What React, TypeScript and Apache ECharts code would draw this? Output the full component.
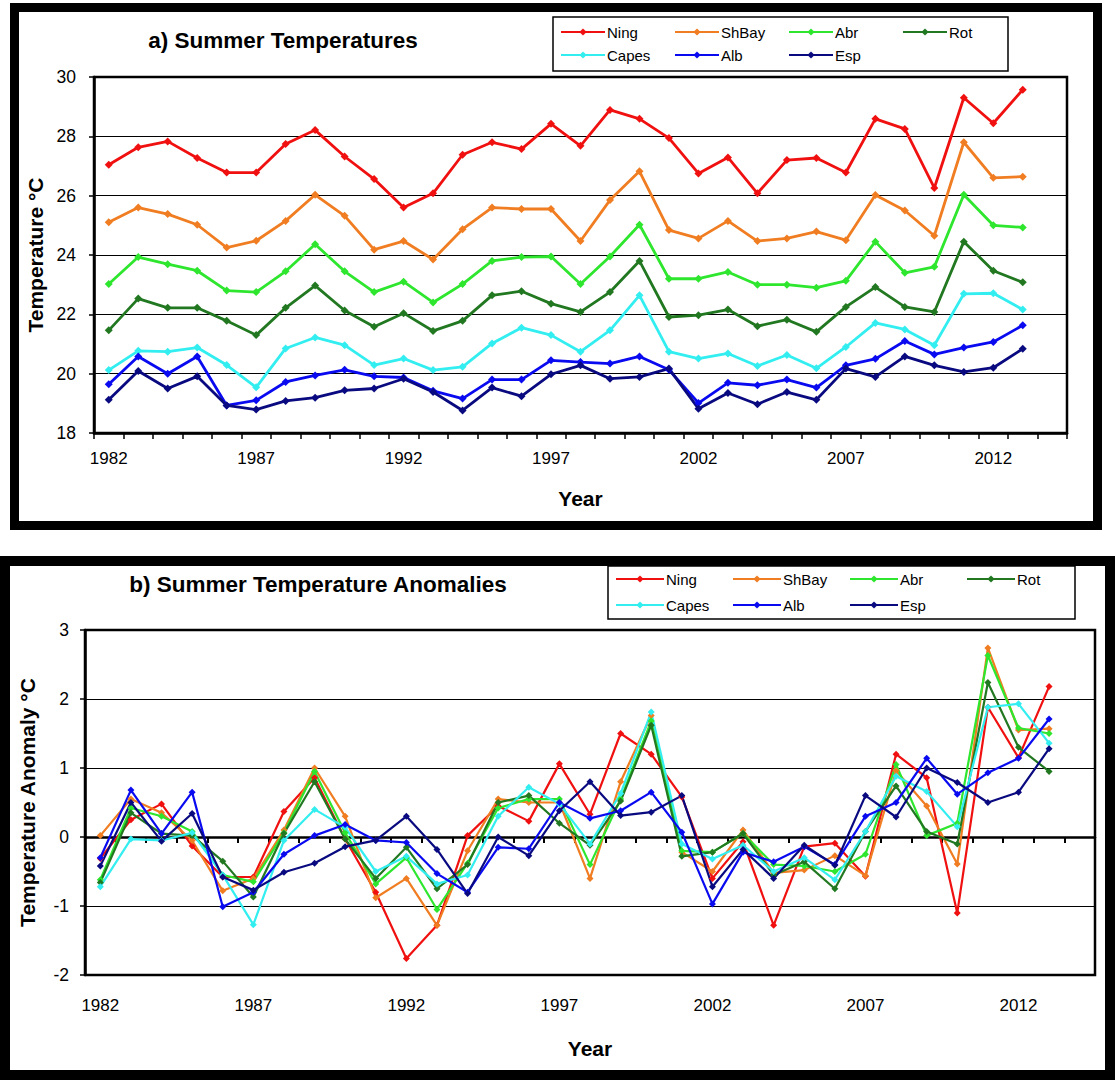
import React, { useEffect, useRef } from "react";
import * as echarts from "echarts";

const years = ["1982","1983","1984","1985","1986","1987","1988","1989","1990","1991","1992","1993","1994","1995","1996","1997","1998","1999","2000","2001","2002","2003","2004","2005","2006","2007","2008","2009","2010","2011","2012","2013","2014"];
const seriesNames = ["Ning", "ShBay", "Abr", "Rot", "Capes", "Alb", "Esp"];
const seriesColors = ["#F01010", "#F07D21", "#2EE62E", "#217821", "#33EEF0", "#0A0AF0", "#0A0A80"];

// a) Summer temperatures (°C)
const ning = [27.04,27.63,27.83,27.27,26.78,26.78,27.74,28.21,27.32,26.56,25.6,26.08,27.38,27.8,27.57,28.42,27.68,28.89,28.59,27.94,26.75,27.29,26.08,27.2,27.27,26.78,28.59,28.25,26.26,29.3,28.44,29.57];
const shbay = [25.1,25.6,25.38,25.02,24.25,24.48,25.15,26.03,25.32,24.18,24.47,23.85,24.87,25.6,25.55,25.55,24.47,25.85,26.82,24.84,24.56,25.15,24.47,24.56,24.79,24.5,26.02,25.5,24.65,27.8,26.6,26.64];
const abr = [23.02,23.93,23.69,23.47,22.8,22.75,23.45,24.36,23.45,22.75,23.1,22.4,23.02,23.8,23.93,23.95,23.02,23.95,25.02,23.2,23.2,23.43,23.0,23.0,22.9,23.13,24.45,23.4,23.6,26.03,25.0,24.93];
const rot = [21.46,22.53,22.22,22.22,21.78,21.3,22.22,22.97,22.13,21.58,22.04,21.44,21.78,22.64,22.78,22.36,22.08,22.75,23.8,21.91,21.97,22.16,21.6,21.82,21.41,22.25,22.92,22.25,22.08,24.45,23.47,23.08];
const capes = [20.12,20.77,20.74,20.88,20.29,19.54,20.85,21.22,20.96,20.29,20.51,20.12,20.23,21.02,21.55,21.3,20.74,21.46,22.64,20.74,20.51,20.68,20.26,20.63,20.18,20.9,21.71,21.49,20.96,22.69,22.71,22.16];
const alb = [19.64,20.58,20.0,20.58,18.93,19.1,19.72,19.94,20.13,19.91,19.87,19.42,19.16,19.8,19.8,20.45,20.39,20.34,20.58,20.13,19.01,19.69,19.61,19.8,19.53,20.28,20.5,21.1,20.65,20.88,21.07,21.63];
const esp = [19.12,20.09,19.5,19.91,18.93,18.79,19.08,19.19,19.44,19.5,19.83,19.38,18.76,19.53,19.24,19.98,20.28,19.83,19.89,20.17,18.82,19.35,18.97,19.38,19.12,20.17,19.89,20.58,20.28,20.06,20.2,20.84];

// b) Summer temperature anomalies (°C)
const ningAnom = [-0.31,0.25,0.48,-0.13,-0.58,-0.58,0.37,0.86,-0.03,-0.8,-1.76,-1.28,0.02,0.45,0.23,1.06,0.33,1.5,1.2,0.58,-0.6,-0.07,-1.28,-0.14,-0.09,-0.57,1.2,0.86,-1.1,1.88,1.15,2.18];
const shbayAnom = [0.02,0.55,0.35,-0.05,-0.78,-0.6,0.1,1.0,0.3,-0.88,-0.6,-1.28,-0.2,0.55,0.5,0.5,-0.6,0.8,1.76,-0.22,-0.5,0.1,-0.52,-0.48,-0.27,-0.56,0.96,0.45,-0.39,2.74,1.55,1.57];
const abrAnom = [-0.62,0.42,0.3,0.08,-0.55,-0.65,0.06,0.95,0.06,-0.68,-0.3,-1.05,-0.38,0.42,0.55,0.55,-0.4,0.55,1.68,-0.2,-0.22,0.05,-0.4,-0.42,-0.5,-0.25,1.05,0.02,0.2,2.63,1.58,1.5];
const rotAnom = [-0.66,0.35,0.05,0.02,-0.35,-0.87,0.05,0.8,-0.03,-0.6,-0.15,-0.75,-0.4,0.5,0.6,0.2,-0.12,0.52,1.62,-0.28,-0.22,0.05,-0.55,-0.36,-0.75,0.08,0.74,0.08,-0.1,2.24,1.3,0.95];
const capesAnom = [-0.72,-0.03,-0.05,0.06,-0.55,-1.27,-0.05,0.4,0.14,-0.5,-0.28,-0.68,-0.55,0.3,0.72,0.48,-0.1,0.63,1.81,-0.1,-0.32,-0.12,-0.5,-0.3,-0.62,0.08,0.88,0.66,0.15,1.88,1.93,1.36];
const albAnom = [-0.3,0.68,0.05,0.65,-1.01,-0.8,-0.25,0.02,0.18,-0.05,-0.08,-0.53,-0.8,-0.15,-0.17,0.5,0.27,0.38,0.65,0.07,-0.97,-0.22,-0.36,-0.14,-0.4,0.3,0.5,1.14,0.62,0.93,1.14,1.71];
const espAnom = [-0.42,0.5,-0.06,0.34,-0.58,-0.77,-0.51,-0.38,-0.14,-0.05,0.3,-0.18,-0.82,0.0,-0.27,0.38,0.8,0.31,0.36,0.6,-0.72,-0.18,-0.6,-0.12,-0.41,0.6,0.29,1.0,0.79,0.5,0.65,1.28];

const tempData = [ning, shbay, abr, rot, capes, alb, esp];
const anomData = [ningAnom, shbayAnom, abrAnom, rotAnom, capesAnom, albAnom, espAnom];

const FONT = "'Liberation Sans', Arial, sans-serif";

function buildOption() {
  const axisLineStyle = { color: "#000", width: 2.5 };
  const labelStyle = { color: "#000", fontSize: 17, fontFamily: FONT };
  const nameStyle = { color: "#000", fontSize: 21, fontWeight: "bold" as const, fontFamily: FONT };

  const legendCommon = (left: number, top: number, data: string[], itemWidth: number, textWidth: number) => ({
    left,
    top,
    orient: "horizontal",
    padding: 0,
    itemGap: 5,
    itemWidth,
    itemHeight: 9,
    z: 10,
    data,
    textStyle: { color: "#000", fontSize: 15, fontFamily: FONT, width: textWidth, lineHeight: 16, padding: [0, 0, 0, -3] },
  });

  const series: any[] = [];
  seriesNames.forEach((name, i) => {
    series.push({
      name,
      type: "line",
      xAxisIndex: 0,
      yAxisIndex: 0,
      data: tempData[i],
      symbol: "diamond",
      symbolSize: 8,
      showSymbol: true,
      lineStyle: { width: 2.8, color: seriesColors[i] },
      itemStyle: { color: seriesColors[i] },
      emphasis: { disabled: true },
    });
  });
  seriesNames.forEach((name, i) => {
    series.push({
      name,
      type: "line",
      xAxisIndex: 2,
      yAxisIndex: 1,
      data: anomData[i],
      symbol: "diamond",
      symbolSize: 7,
      showSymbol: true,
      lineStyle: { width: 2.2, color: seriesColors[i] },
      itemStyle: { color: seriesColors[i] },
      emphasis: { disabled: true },
    });
  });

  return {
    animation: false,
    backgroundColor: "#fff",
    grid: [
      { left: 94, top: 77, width: 973, height: 356, show: true, borderColor: "#000", borderWidth: 2.5, backgroundColor: "transparent" },
      { left: 85, top: 630, width: 1010, height: 345, show: true, borderColor: "#000", borderWidth: 2.5, backgroundColor: "transparent" },
    ],
    xAxis: [
      {
        gridIndex: 0,
        type: "category",
        data: years,
        boundaryGap: true,
        axisLine: { show: true, lineStyle: axisLineStyle },
        axisTick: { show: true, interval: 0, length: 6, lineStyle: { color: "#000", width: 1.5 } },
        axisLabel: { ...labelStyle, interval: 4, margin: 17 },
        splitLine: { show: false },
        name: "Year",
        nameLocation: "middle",
        nameGap: 55,
        nameTextStyle: nameStyle,
      },
      {
        gridIndex: 1,
        type: "category",
        data: years,
        boundaryGap: true,
        position: "bottom",
        axisLine: { show: false, onZero: false },
        axisTick: { show: false },
        axisLabel: { ...labelStyle, interval: 4, margin: 22 },
        splitLine: { show: false },
        name: "Year",
        nameLocation: "middle",
        nameGap: 63,
        nameTextStyle: nameStyle,
      },
      {
        gridIndex: 1,
        type: "category",
        data: years,
        boundaryGap: true,
        position: "bottom",
        axisLine: { show: true, onZero: true, onZeroAxisIndex: 1, lineStyle: axisLineStyle },
        axisTick: { show: true, interval: 0, length: 6, lineStyle: { color: "#000", width: 2 } },
        axisLabel: { show: false },
        splitLine: { show: false },
      },
    ],
    yAxis: [
      {
        gridIndex: 0,
        type: "value",
        min: 18,
        max: 30,
        interval: 2,
        axisLine: { show: true, lineStyle: axisLineStyle },
        axisTick: { show: true, length: 5, lineStyle: { color: "#000", width: 1.5 } },
        axisLabel: { ...labelStyle, fontSize: 17.5, margin: 18 },
        splitLine: { show: true, lineStyle: { color: "#000", width: 1.2 } },
        name: "Temperature °C",
        nameLocation: "middle",
        nameGap: 46,
        nameRotate: 90,
        nameTextStyle: nameStyle,
      },
      {
        gridIndex: 1,
        type: "value",
        min: -2,
        max: 3,
        interval: 1,
        axisLine: { show: true, onZero: false, lineStyle: axisLineStyle },
        axisTick: { show: true, length: 5, lineStyle: { color: "#000", width: 1.5 } },
        axisLabel: { ...labelStyle, fontSize: 17.5, margin: 16 },
        splitLine: { show: true, lineStyle: { color: "#000", width: 1.2 } },
        name: "Temperature Anomaly °C",
        nameLocation: "middle",
        nameGap: 47,
        nameRotate: 90,
        nameTextStyle: nameStyle,
      },
    ],
    legend: [
      legendCommon(560, 24, ["Ning", "ShBay", "Abr", "Rot"], 44, 62),
      legendCommon(560, 47, ["Capes", "Alb", "Esp"], 44, 62),
      legendCommon(615, 571, ["Ning", "ShBay", "Abr", "Rot"], 48, 61),
      legendCommon(615, 597, ["Capes", "Alb", "Esp"], 48, 61),
    ],
    graphic: [
      { type: "rect", z: 0, shape: { x: 14.5, y: 7.5, width: 1083, height: 518 }, style: { fill: "none", stroke: "#000", lineWidth: 9 } },
      { type: "rect", z: 0, shape: { x: 5, y: 561, width: 1105, height: 514 }, style: { fill: "none", stroke: "#000", lineWidth: 10 } },
      { type: "rect", z: 1, shape: { x: 553, y: 17, width: 455, height: 54 }, style: { fill: "#fff", stroke: "#000", lineWidth: 1.5 } },
      { type: "rect", z: 1, shape: { x: 608, y: 566, width: 467, height: 53 }, style: { fill: "#fff", stroke: "#000", lineWidth: 1.5 } },
      {
        type: "text", z: 5, x: 283, y: 40,
        style: { text: "a) Summer Temperatures", fontSize: 22.5, fontWeight: "bold", fontFamily: FONT, fill: "#000", align: "center", verticalAlign: "middle" },
      },
      {
        type: "text", z: 5, x: 318, y: 584,
        style: { text: "b) Summer Temperature Anomalies", fontSize: 22.5, fontWeight: "bold", fontFamily: FONT, fill: "#000", align: "center", verticalAlign: "middle" },
      },
    ],
    series,
  };
}

export default function App() {
  const ref = useRef<HTMLDivElement>(null);
  useEffect(() => {
    if (!ref.current) return;
    const chart = echarts.init(ref.current, null, { renderer: "svg" });
    chart.setOption(buildOption() as any);
    return () => chart.dispose();
  }, []);
  return (
    <div style={{ position: "absolute", left: 0, top: 0, width: 1116, height: 1080, background: "#fff" }}>
      <div ref={ref} style={{ width: 1116, height: 1080 }} />
    </div>
  );
}
